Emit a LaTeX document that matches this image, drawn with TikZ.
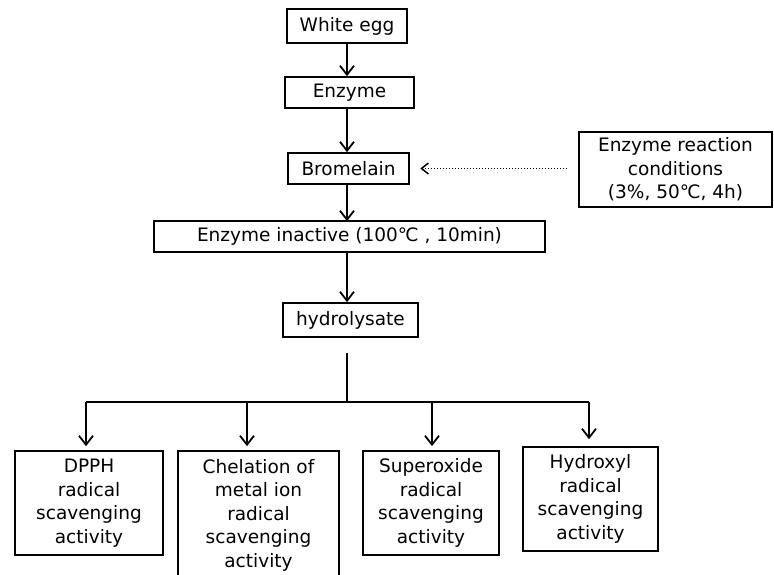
\documentclass[tikz,border=0pt]{standalone}
\usepackage{fontspec}
\setmainfont{DejaVu Sans}
\usetikzlibrary{arrows.meta}
\newcommand{\degc}{℃}
\tikzset{
  box/.style={draw, line width=1.6pt, inner sep=0pt, align=center, font=\fontsize{18.5}{23.5}\selectfont},
  arr/.style={line width=1.6pt, -{Straight Barb[length=9pt,width=14pt,line width=1.8pt]}},
  ln/.style={line width=1.6pt},
  dotarr/.style={line width=1.9pt, dash pattern=on 1.6pt off 1.4pt, -{Straight Barb[length=7pt,width=11pt,line width=1.5pt,sep]}}
}
\begin{document}
\begin{tikzpicture}[x=1pt,y=-1pt]
\useasboundingbox (0,0) rectangle (774,575);
\node[box, minimum width=120pt, minimum height=34pt] (we) at (347,26) {White egg};
\node[box, minimum width=129pt, minimum height=31pt] (en) at (349.5,92.5) {Enzyme};
\node[box, minimum width=121pt, minimum height=31pt] (br) at (348.5,168.5) {Bromelain};
\node[box, minimum width=391pt, minimum height=31pt] (in) at (349.5,236.5) {Enzyme inactive (100\degc\ , 10min)};
\node[box, minimum width=135pt, minimum height=34pt] (hy) at (350.5,320) {hydrolysate};
\node[box, minimum width=193pt, minimum height=75pt] (co) at (675.5,169.5) {Enzyme reaction\\conditions\\(3\%, 50\degc, 4h)};
\node[box, minimum width=148pt, minimum height=104pt] (dp) at (89,503) {DPPH\\radical\\scavenging\\activity};
\node[box, minimum width=161pt, minimum height=128pt] (ch) at (258.5,515) {Chelation of\\metal ion\\radical\\scavenging\\activity};
\node[box, minimum width=136pt, minimum height=104pt] (su) at (431,503) {Superoxide\\radical\\scavenging\\activity};
\node[box, minimum width=135pt, minimum height=104pt] (hx) at (590.5,499) {Hydroxyl\\radical\\scavenging\\activity};

\coordinate (c0) at (347,0);
\draw[arr] (we.south -| c0) -- (en.north -| c0);
\draw[arr] (en.south -| c0) -- (br.north -| c0);
\draw[arr] (br.south -| c0) -- ([yshift=-1pt]in.north -| c0);
\draw[arr] (in.south -| c0) -- (hy.north -| c0);

\coordinate (b0) at (347,353);
\coordinate (b1) at (347,402);
\coordinate (h1) at (86,402);
\coordinate (h2) at (247,402);
\coordinate (h3) at (432,402);
\coordinate (h4) at (589,402);
\draw[ln] (b0) -- (b1);
\draw[ln] (h1) -- (h4);
\draw[arr, shorten >=4pt] (h1) -- (dp.north -| h1);
\draw[arr, shorten >=4pt] (h2) -- (ch.north -| h2);
\draw[arr, shorten >=4pt] (h3) -- (su.north -| h3);
\draw[arr, shorten >=7pt] (h4) -- (hx.north -| h4);

\draw[dotarr, shorten <=11pt, shorten >=9pt] (co.west |- br.east) -- (br.east);
\end{tikzpicture}
\end{document}
